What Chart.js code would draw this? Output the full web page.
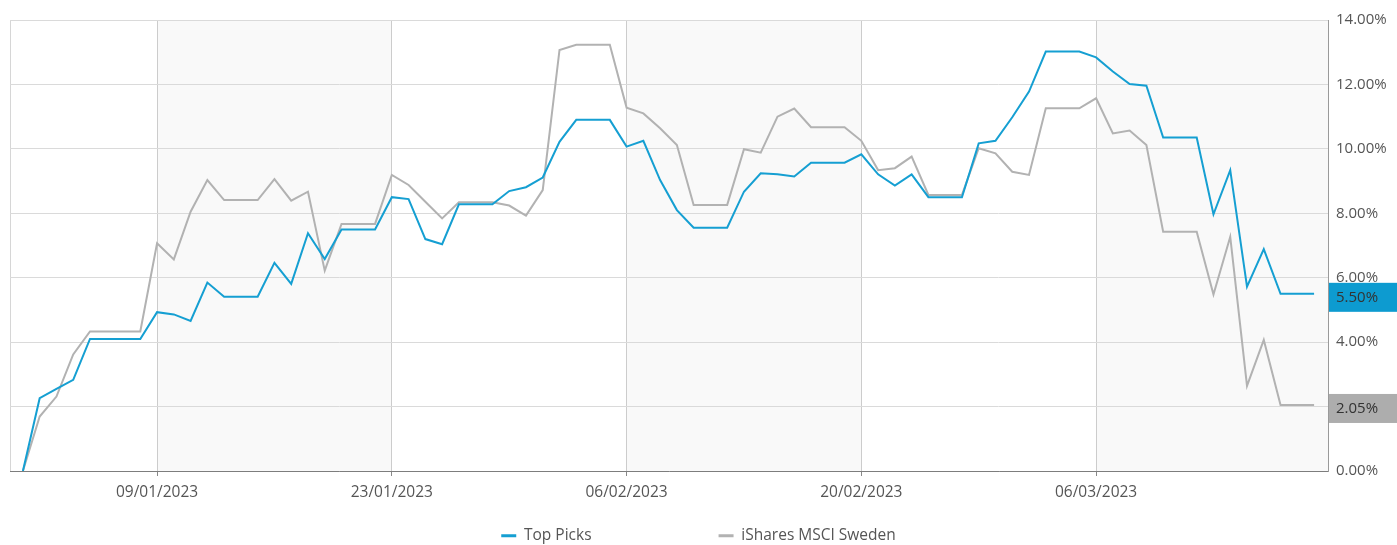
<!DOCTYPE html>
<html><head><meta charset="utf-8">
<script src="https://cdn.jsdelivr.net/npm/chart.js@4.4.0/dist/chart.umd.min.js"></script>
<style>html,body{margin:0;padding:0;background:#fff;}#wrap{width:1397px;height:545px;}</style>
</head><body><div id="wrap"><canvas id="c" width="1397" height="545"></canvas></div>
<script>
const dates = [
'01/01/2023','02/01/2023','03/01/2023','04/01/2023','05/01/2023','06/01/2023','07/01/2023','08/01/2023','09/01/2023','10/01/2023',
'11/01/2023','12/01/2023','13/01/2023','14/01/2023','15/01/2023','16/01/2023','17/01/2023','18/01/2023','19/01/2023','20/01/2023',
'21/01/2023','22/01/2023','23/01/2023','24/01/2023','25/01/2023','26/01/2023','27/01/2023','28/01/2023','29/01/2023','30/01/2023',
'31/01/2023','01/02/2023','02/02/2023','03/02/2023','04/02/2023','05/02/2023','06/02/2023','07/02/2023','08/02/2023','09/02/2023',
'10/02/2023','11/02/2023','12/02/2023','13/02/2023','14/02/2023','15/02/2023','16/02/2023','17/02/2023','18/02/2023','19/02/2023',
'20/02/2023','21/02/2023','22/02/2023','23/02/2023','24/02/2023','25/02/2023','26/02/2023','27/02/2023','28/02/2023','01/03/2023',
'02/03/2023','03/03/2023','04/03/2023','05/03/2023','06/03/2023','07/03/2023','08/03/2023','09/03/2023','10/03/2023','11/03/2023',
'12/03/2023','13/03/2023','14/03/2023','15/03/2023','16/03/2023','17/03/2023','18/03/2023','19/03/2023'];
const tickLabels = ['09/01/2023','23/01/2023','06/02/2023','20/02/2023','06/03/2023'];
const seriesNames = ['Top Picks','iShares MSCI Sweden'];
const topPicks = [
0,2.26,2.55,2.83,4.10,4.10,4.10,4.10,4.93,4.86,
4.66,5.85,5.41,5.41,5.41,6.46,5.81,7.38,6.58,7.50,
7.50,7.50,8.50,8.44,7.20,7.04,8.28,8.28,8.28,8.69,
8.81,9.11,10.22,10.90,10.90,10.90,10.07,10.25,9.03,8.10,
7.55,7.55,7.55,8.67,9.24,9.21,9.14,9.57,9.57,9.57,
9.83,9.21,8.86,9.21,8.50,8.50,8.50,10.17,10.25,10.98,
11.78,13.02,13.02,13.02,12.84,12.40,12.01,11.96,10.35,10.35,
10.35,7.97,9.34,5.72,6.89,5.50,5.50,5.50];
const msciSweden = [
0,1.69,2.31,3.62,4.33,4.33,4.33,4.33,7.07,6.57,
8.05,9.03,8.41,8.41,8.41,9.06,8.39,8.67,6.22,7.67,
7.67,7.67,9.19,8.88,8.36,7.84,8.34,8.34,8.34,8.24,
7.93,8.72,13.07,13.23,13.23,13.23,11.28,11.10,10.64,10.12,
8.26,8.26,8.26,9.99,9.88,11.00,11.25,10.67,10.67,10.67,
10.25,9.34,9.40,9.76,8.57,8.57,8.57,10.02,9.86,9.29,
9.19,11.26,11.26,11.26,11.57,10.48,10.57,10.12,7.43,7.43,
7.43,5.48,7.27,2.64,4.07,2.05,2.05,2.05];
const yMin = 0, yMax = 14, yStep = 2;

const BLUE = '#159fd2', GREY = '#b2b2b2';
const BLUE_BOX = '#0d9bd0', GREY_BOX = '#adadad';
const FONT = '"Open Sans", sans-serif';

Chart.defaults.font.family = FONT;
Chart.defaults.font.size = 15;
Chart.defaults.color = '#555';

const toXY = arr => arr.map((v, i) => ({x: i, y: v}));

const bandsPlugin = {
  id: 'bands',
  beforeDraw(chart) {
    const {ctx, chartArea: a, scales: {x}} = chart;
    ctx.save();
    ctx.fillStyle = '#f9f9f9';
    const pos = tickLabels.map(l => x.getPixelForValue(dates.indexOf(l)));
    for (let i = 0; i < pos.length; i += 2) {
      const x0 = pos[i];
      const x1 = i + 1 < pos.length ? pos[i + 1] : a.right;
      ctx.fillRect(x0, a.top, x1 - x0, a.bottom - a.top);
    }
    ctx.strokeStyle = '#d6d6d6';
    ctx.lineWidth = 1;
    ctx.beginPath();
    ctx.moveTo(a.left + 0.5, a.bottom);
    ctx.lineTo(a.left + 0.5, a.top + 0.5);
    ctx.lineTo(a.right, a.top + 0.5);
    ctx.stroke();
    ctx.restore();
  }
};

const lastValuePlugin = {
  id: 'lastValue',
  afterDraw(chart) {
    const {ctx, chartArea: a, scales: {y}} = chart;
    const items = [[msciSweden, GREY_BOX], [topPicks, BLUE_BOX]];
    ctx.save();
    items.forEach(([arr, col]) => {
      const v = arr[arr.length - 1];
      const py = y.getPixelForValue(v);
      ctx.fillStyle = col;
      ctx.fillRect(a.right + 1, py - 11, chart.width - a.right, 29);
      ctx.fillStyle = '#333';
      ctx.font = '15px ' + FONT;
      ctx.textAlign = 'left';
      ctx.textBaseline = 'middle';
      ctx.fillText(v.toFixed(2) + '%', a.right + 8, py + 4);
    });
    ctx.restore();
  }
};

const LEG_PAD = 127, LEG_SHIFT = 101;
const legendSpacing = {
  id: 'legendSpacing',
  beforeInit(chart) {
    const lg = chart.legend;
    const fit = lg.fit, draw = lg._draw;
    lg.fit = function () { fit.call(this); this.height = 43; };
    lg._draw = function () { this.top -= LEG_SHIFT; draw.call(this); this.top += LEG_SHIFT; };
  }
};

new Chart(document.getElementById('c'), {
  type: 'line',
  data: {
    datasets: [
      {label: seriesNames[0], data: toXY(topPicks), borderColor: BLUE, backgroundColor: BLUE, borderWidth: 2, pointRadius: 0, tension: 0},
      {label: seriesNames[1], data: toXY(msciSweden), borderColor: GREY, backgroundColor: GREY, borderWidth: 2, pointRadius: 0, tension: 0}
    ]
  },
  options: {
    responsive: false,
    animation: false,
    devicePixelRatio: 1,
    layout: {padding: {left: 10, top: 20, right: 10, bottom: 0}},
    scales: {
      x: {
        type: 'linear', min: -0.77, max: 77.83,
        afterBuildTicks: s => { s.ticks = tickLabels.map(l => ({value: dates.indexOf(l)})); },
        ticks: {callback: v => dates[v], color: '#555', padding: 7, maxRotation: 0, autoSkip: false, font: {size: 15.5}},
        grid: {color: '#cccccc', tickLength: 5, tickColor: '#888'},
        border: {color: '#7d7d7d'},
        afterFit: s => { s.height = 31; }
      },
      y: {
        position: 'right', min: yMin, max: yMax,
        ticks: {stepSize: yStep, callback: v => v.toFixed(2) + '%', color: '#555', padding: 8},
        grid: {color: '#dadada', drawTicks: false},
        border: {color: '#9a9a9a'},
        afterFit: s => { s.width = 59; }
      }
    },
    plugins: {
      tooltip: {enabled: false},
      legend: {
        position: 'bottom',
        labels: {
          padding: LEG_PAD, usePointStyle: true, pointStyle: 'line', pointStyleWidth: 15,
          color: '#555', font: {size: 15.5},
          generateLabels: ch => Chart.defaults.plugins.legend.labels.generateLabels(ch).map(l => Object.assign(l, {lineWidth: 3}))
        }
      }
    }
  },
  plugins: [bandsPlugin, lastValuePlugin, legendSpacing]
});
</script></body></html>
